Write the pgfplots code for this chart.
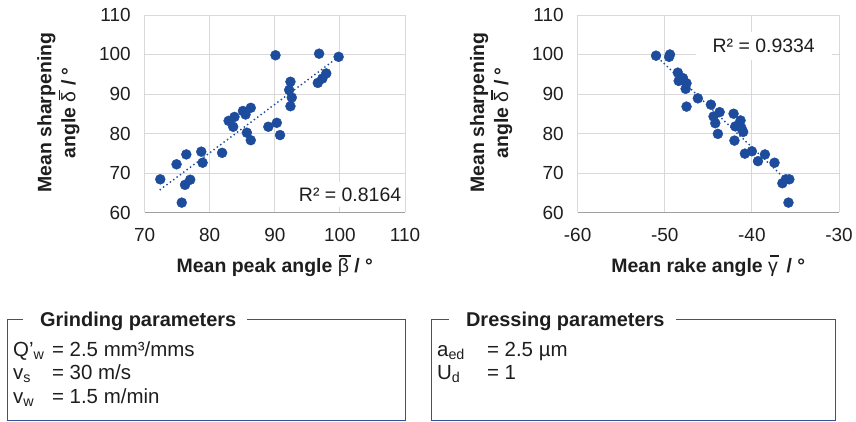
\documentclass[border=0pt]{standalone}
\usepackage{fontspec}
\setmainfont{Liberation Sans}
\usepackage{pgfplots}
\pgfplotsset{compat=1.18}

\definecolor{dotblue}{RGB}{28,76,155}
\definecolor{boxblue}{RGB}{47,85,151}
\definecolor{gridgray}{RGB}{217,217,217}
\definecolor{txt}{RGB}{30,30,30}

% thin greek letter with a bar over it
\newsavebox\ovbox
\newcommand\ovl[1]{\sbox\ovbox{\mdseries #1}\rlap{\usebox\ovbox}%
  \hspace{0.08em}\raisebox{0.8em}{\rule{\wd\ovbox}{0.06em}}\hspace{-0.08em}}

\pgfplotsset{
  excel/.style={
    scale only axis,
    width=261bp, height=198bp,
    ymin=60, ymax=110, ytick distance=10,
    grid=major,
    grid style={gridgray, line width=0.9bp},
    axis x line*=bottom, axis y line*=left,
    x axis line style={draw=gray!75, line width=1bp, -},
    y axis line style={draw=gridgray, line width=0.9bp, -},
    major tick length=0pt,
    tick label style={font=\fontsize{19bp}{22bp}\selectfont, text=txt},
    /pgf/number format/assume math mode=true,
    xticklabel style={yshift=-12.5bp},
    yticklabel style={xshift=-10.5bp},
    xlabel style={at={(axis description cs:0.5,-0.27)}, anchor=center,
                  font=\fontsize{19.5bp}{22bp}\selectfont\bfseries, text=txt},
    ylabel style={at={(axis description cs:-0.331,0.505)}, anchor=center, rotate=0,
                  align=center, font=\fontsize{19.5bp}{24bp}\selectfont\bfseries, text=txt},
    clip=false,
  },
  pts/.style={only marks, mark=*, mark size=5bp, color=dotblue},
  trend/.style={dotblue, line width=2bp, line cap=round, dash pattern=on 0pt off 4.2bp},
}

\begin{document}
\begin{tikzpicture}
\path (0,0) rectangle (856bp,-423bp);

% left chart
\begin{axis}[excel, at={(145bp,-213bp)}, anchor=south west,
  xmin=70, xmax=110, xtick distance=10,
  xlabel={Mean peak angle \ovl{β} / °},
  ylabel={Mean sharpening\\angle \ovl{δ} / °}]
\addplot[trend] coordinates {(72.4,65.8) (99.8,99.4)};
\addplot[pts] coordinates {
 (72.4,68.4)(74.9,72.2)(76.4,74.7)(75.7,62.5)(76.2,67.0)(77.0,68.3)
 (78.7,75.4)(78.9,72.6)(81.9,75.1)(82.9,83.2)(83.8,84.2)(83.6,81.7)
 (85.1,85.7)(85.5,84.8)(86.3,86.5)(85.7,80.2)(86.3,78.3)(89.0,81.7)
 (90.3,82.7)(90.8,79.6)(90.1,99.8)(92.4,93.1)(92.2,91.0)(92.6,89.1)
 (92.4,86.9)(96.8,100.2)(99.8,99.4)(96.6,92.8)(97.3,93.9)(97.9,95.2)
};
\node[fill=white, inner xsep=4bp, inner ysep=6bp, text=txt,
      font=\fontsize{19.5bp}{22bp}\selectfont]
  at (axis description cs:0.789,0.091) {R² = 0.8164};
\end{axis}

% right chart
\begin{axis}[excel, at={(579bp,-213bp)}, anchor=south west, width=262bp,
  xmin=-60, xmax=-30, xtick distance=10,
  xlabel={Mean rake angle \ovl{γ}\, / °},
  ylabel={Mean sharpening\\angle \ovl{δ} / °}]
\addplot[trend] coordinates {(-50.4,98.4) (-35.8,67.7)};
\addplot[pts] coordinates {
 (-51.0,99.7)(-49.4,100.0)(-49.5,99.4)(-48.5,95.4)(-48.4,93.3)(-47.9,94.0)
 (-47.5,92.7)(-47.6,91.3)(-47.5,86.8)(-46.2,88.9)(-44.7,87.3)(-44.4,84.3)
 (-43.7,85.4)(-44.2,82.6)(-43.9,79.9)(-42.1,85.0)(-41.9,81.8)(-41.3,83.3)
 (-41.2,81.4)(-41.0,80.4)(-42.0,78.2)(-40.8,74.9)(-40.0,75.5)(-39.3,73.0)
 (-38.5,74.7)(-37.4,72.6)(-36.5,67.4)(-36.1,68.4)(-35.7,68.4)(-35.8,62.5)
};
\node[fill=white, inner xsep=17bp, inner ysep=7bp, text=txt,
      font=\fontsize{19.5bp}{22bp}\selectfont]
  at (axis description cs:0.712,0.843) {R² = 0.9334};
\end{axis}

% parameter boxes
\begin{scope}[boxblue, line width=1bp]
\draw (23bp,-320bp) -- (7.5bp,-320bp) -- (7.5bp,-421.5bp) -- (406.5bp,-421.5bp)
      -- (406.5bp,-320bp) -- (248bp,-320bp);
\draw (450bp,-320bp) -- (433bp,-320bp) -- (433bp,-421.5bp) -- (837bp,-421.5bp)
      -- (837bp,-320bp) -- (678bp,-320bp);
\end{scope}
\begin{scope}[every node/.style={inner sep=0pt, anchor=base west, text=txt,
      font=\fontsize{20.5bp}{22bp}\selectfont}]
\node[font=\fontsize{20bp}{22bp}\selectfont\bfseries] at (40bp,-327bp) {Grinding parameters};
\node at (13bp,-357bp) {Q'\textsubscript{w}};
\node at (52bp,-357bp) {= 2.5 mm³/mms};
\node at (13bp,-380bp) {v\textsubscript{s}};
\node at (52bp,-380bp) {= 30 m/s};
\node at (13bp,-404bp) {v\textsubscript{w}};
\node at (52bp,-404bp) {= 1.5 m/min};
\node[font=\fontsize{20bp}{22bp}\selectfont\bfseries] at (467bp,-327bp) {Dressing parameters};
\node at (438bp,-357bp) {a\textsubscript{ed}};
\node at (488bp,-357bp) {= 2.5 µm};
\node at (438bp,-380bp) {U\textsubscript{d}};
\node at (488bp,-380bp) {= 1};
\end{scope}
\end{tikzpicture}
\end{document}
